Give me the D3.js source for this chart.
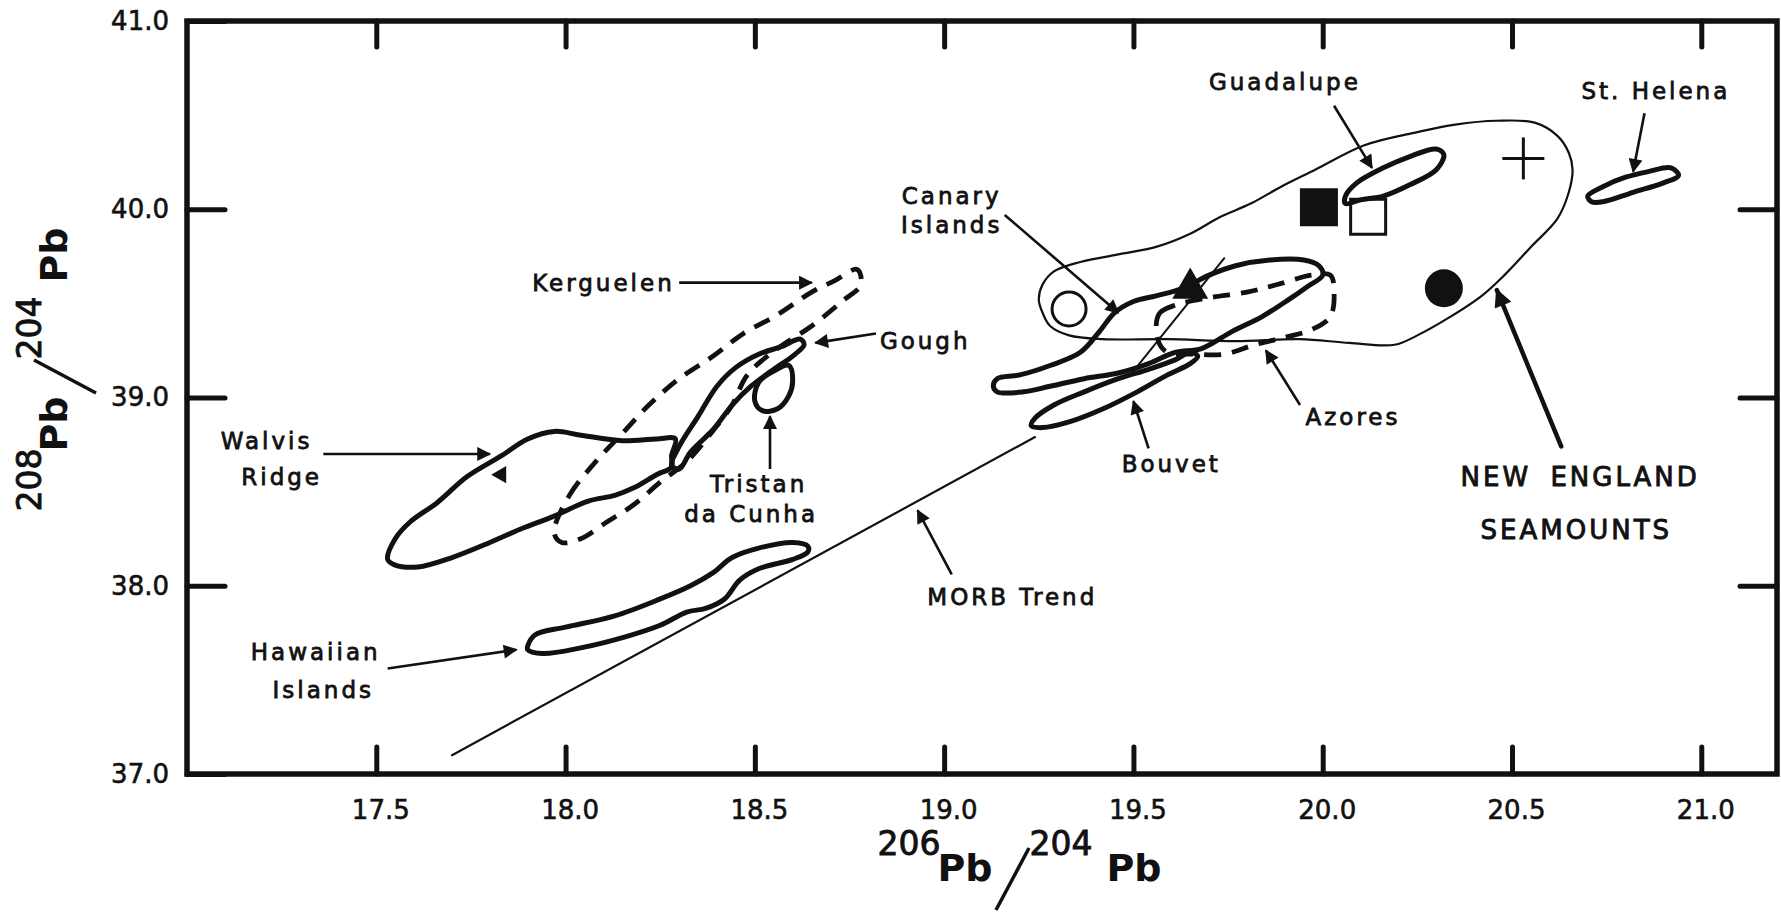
<!DOCTYPE html>
<html>
<head>
<meta charset="utf-8">
<script src="https://cdn.jsdelivr.net/npm/d3@7"></script>
<style>
  body { margin: 0; background: #fff; }
  text { font-family: "DejaVu Sans", sans-serif; fill: #111; }
  .axis path.domain { display: none; }
  .axis line { stroke: #111; stroke-width: 5; stroke-linecap: round; }
  .axis text { font-size: 26px; font-family: "DejaVu Sans", sans-serif; fill: #111;
    stroke: #111; stroke-width: 0.6px; }
  .lbl { font-size: 23px; letter-spacing: 3px; stroke: #111; stroke-width: 0.8px; }
  .big { font-size: 26px; letter-spacing: 3px; word-spacing: 8px; stroke: #111; stroke-width: 0.9px; }
  .sup { font-size: 33px; stroke: #111; stroke-width: 0.9px; }
  .pb { font-size: 38px; font-weight: bold; }
</style>
</head>
<body>
<svg id="chart" width="1781" height="915"></svg>
<script>
// tick values
var xTicks = [17.5, 18.0, 18.5, 19.0, 19.5, 20.0, 20.5, 21.0];
var yTicks = [37.0, 38.0, 39.0, 40.0, 41.0];
var yTicksRight = [38.0, 39.0, 40.0];

// field outlines, [206Pb/204Pb, 208Pb/204Pb]
var walvisRidge = [[17.53,38.14],[17.55,38.25],[17.59,38.34],[17.66,38.44],[17.74,38.58],[17.83,38.69],
  [17.90,38.78],[17.97,38.82],[18.04,38.80],[18.15,38.77],[18.24,38.78],[18.29,38.78],[18.28,38.69],
  [18.28,38.63],[18.24,38.59],[18.18,38.52],[18.13,38.48],[18.06,38.45],[17.97,38.37],[17.88,38.30],
  [17.80,38.23],[17.70,38.15],[17.61,38.10],[17.55,38.11]];
var gough = [[18.28,38.64],[18.30,38.74],[18.35,38.90],[18.40,39.06],[18.45,39.16],[18.51,39.23],
  [18.57,39.27],[18.62,39.31],[18.63,39.28],[18.60,39.22],[18.55,39.15],[18.49,39.06],[18.44,38.96],
  [18.39,38.83],[18.33,38.71],[18.30,38.62]];
var tristan = [[18.50,38.98],[18.51,39.08],[18.55,39.14],[18.59,39.17],[18.60,39.09],[18.59,39.01],
  [18.56,38.94],[18.52,38.93]];
var kerguelen = [[17.97,38.28],[18.01,38.48],[18.08,38.66],[18.15,38.81],[18.22,38.96],[18.30,39.10],
  [18.39,39.22],[18.47,39.34],[18.56,39.44],[18.65,39.56],[18.71,39.62],[18.77,39.68],[18.78,39.60],
  [18.73,39.51],[18.65,39.38],[18.56,39.26],[18.48,39.12],[18.44,38.96],[18.38,38.80],[18.32,38.66],
  [18.25,38.55],[18.18,38.43],[18.11,38.34],[18.04,38.25],[17.99,38.23]];
var hawaiian = [[17.90,37.68],[17.92,37.74],[18.00,37.78],[18.13,37.84],[18.25,37.93],[18.33,38.00],
  [18.39,38.07],[18.44,38.15],[18.51,38.20],[18.60,38.23],[18.64,38.21],[18.64,38.18],[18.60,38.14],
  [18.51,38.09],[18.46,38.03],[18.42,37.93],[18.37,37.88],[18.32,37.86],[18.25,37.79],[18.16,37.73],
  [18.04,37.67],[17.94,37.64],[17.90,37.66]];
var canary = [[19.13,39.06],[19.14,39.10],[19.20,39.12],[19.28,39.17],[19.36,39.24],[19.41,39.35],
  [19.45,39.45],[19.50,39.51],[19.56,39.54],[19.63,39.58],[19.70,39.65],[19.77,39.70],[19.86,39.73],
  [19.95,39.73],[19.99,39.70],[20.00,39.65],[19.96,39.59],[19.91,39.52],[19.84,39.43],[19.76,39.35],
  [19.68,39.26],[19.61,39.24],[19.54,39.18],[19.46,39.13],[19.37,39.10],[19.28,39.06],[19.21,39.03],
  [19.14,39.03]];
var bouvet = [[19.23,38.85],[19.24,38.89],[19.29,38.96],[19.37,39.03],[19.46,39.10],[19.54,39.15],
  [19.61,39.20],[19.65,39.24],[19.67,39.22],[19.65,39.18],[19.59,39.12],[19.51,39.03],[19.42,38.94],
  [19.33,38.87],[19.26,38.84]];
var azores = [[19.56,39.38],[19.57,39.45],[19.61,39.49],[19.70,39.53],[19.80,39.56],[19.88,39.60],
  [19.97,39.65],[20.02,39.65],[20.03,39.56],[20.02,39.43],[19.97,39.36],[19.90,39.32],[19.82,39.28],
  [19.74,39.23],[19.66,39.23],[19.59,39.24],[19.57,39.28]];
var newEngland = [[19.25,39.52],[19.26,39.60],[19.29,39.67],[19.36,39.72],[19.46,39.76],[19.56,39.80],
  [19.65,39.87],[19.73,39.96],[19.81,40.03],[19.89,40.12],[19.98,40.21],[20.11,40.34],[20.25,40.41],
  [20.35,40.45],[20.46,40.47],[20.56,40.46],[20.62,40.39],[20.65,40.30],[20.66,40.21],[20.65,40.09],
  [20.62,39.95],[20.55,39.80],[20.48,39.65],[20.42,39.54],[20.33,39.42],[20.25,39.33],[20.19,39.28],
  [20.07,39.29],[19.94,39.31],[19.77,39.30],[19.59,39.31],[19.42,39.31],[19.33,39.33],[19.28,39.38],
  [19.26,39.45]];
var guadalupe = [[20.06,40.07],[20.09,40.14],[20.16,40.22],[20.23,40.28],[20.30,40.32],[20.32,40.29],
  [20.30,40.21],[20.23,40.13],[20.16,40.07],[20.10,40.05],[20.06,40.03]];
var stHelena = [[20.70,40.07],[20.74,40.12],[20.80,40.17],[20.86,40.20],[20.92,40.22],[20.94,40.18],
  [20.90,40.14],[20.82,40.09],[20.74,40.04],[20.71,40.04]];

// straight lines
var morbTrend = [[17.70,37.10],[19.24,38.79]];
var tieLine = [[19.50,39.14],[19.74,39.74]];

// individual samples
var filledSquares = [[19.99,40.01]];
var openSquares = [[20.12,39.96]];
var crosses = [[20.53,40.27]];
var filledCircles = [[20.32,39.58]];
var openCircles = [[19.33,39.47]];
var filledTriangles = [[19.65,39.58]];
var smallTriangles = [[17.83,38.59]];

// annotations: text, x, y
var labels = [
  ['Kerguelen', 18.10, 39.61], ['Walvis', 17.21, 38.77], ['Ridge', 17.25, 38.58],
  ['Gough', 18.95, 39.30], ['Tristan', 18.51, 38.54], ['da Cunha', 18.49, 38.38],
  ['Hawaiian', 17.34, 37.65], ['Islands', 17.36, 37.45], ['MORB Trend', 19.18, 37.94],
  ['Canary', 19.02, 40.07], ['Islands', 19.02, 39.92], ['Bouvet', 19.60, 38.65],
  ['Azores', 20.08, 38.90], ['Guadalupe', 19.90, 40.68], ['St. Helena', 20.88, 40.63]
];
var bigLabels = [['NEW ENGLAND', 20.68, 38.58], ['SEAMOUNTS', 20.67, 38.30]];
// arrows: x1, y1, x2, y2 (head at the second point)
var arrows = [
  [18.30,39.61, 18.65,39.61], [17.36,38.70, 17.80,38.70], [18.82,39.34, 18.66,39.29],
  [18.54,38.62, 18.54,38.90], [17.53,37.56, 17.87,37.66], [19.02,38.06, 18.93,38.40],
  [19.16,39.97, 19.46,39.45], [19.54,38.73, 19.50,38.98], [19.94,38.96, 19.85,39.25],
  [20.03,40.55, 20.13,40.22], [20.85,40.51, 20.82,40.20]
];
var bigArrows = [[20.63,38.74, 20.46,39.57]];

var ink = '#111';
var svg = d3.select('#chart');
var x = d3.scaleLinear().domain([17.0, 21.2]).range([187, 1777]);
var y = d3.scaleLinear().domain([37.0, 41.0]).range([774, 21]);

var defs = svg.append('defs');
function addHead(id, w, h) {
  defs.append('marker').attr('id', id)
    .attr('viewBox', '0 0 10 10').attr('refX', 9).attr('refY', 5)
    .attr('markerWidth', w).attr('markerHeight', h)
    .attr('markerUnits', 'userSpaceOnUse').attr('orient', 'auto')
    .append('path').attr('d', 'M0,0L10,5L0,10Z').attr('fill', ink);
}
addHead('head', 17, 14);
addHead('headBig', 22, 18);

// axes, ticks pointing inward
svg.append('g').attr('class', 'axis')
  .attr('transform', 'translate(0,' + y(37) + ')')
  .call(d3.axisBottom(x).tickValues(xTicks).tickSize(-27).tickPadding(27).tickFormat(d3.format('.1f')))
  .selectAll('text').attr('dx', 4);
svg.append('g').attr('class', 'axis')
  .attr('transform', 'translate(0,' + y(41) + ')')
  .call(d3.axisTop(x).tickValues(xTicks).tickSize(-26).tickFormat(function () { return ''; }));
svg.append('g').attr('class', 'axis')
  .attr('transform', 'translate(' + x(17) + ',0)')
  .call(d3.axisLeft(y).tickValues(yTicks).tickSize(-38).tickPadding(18).tickFormat(d3.format('.1f')));
svg.append('g').attr('class', 'axis')
  .attr('transform', 'translate(' + x(21.2) + ',0)')
  .call(d3.axisRight(y).tickValues(yTicksRight).tickSize(-37).tickFormat(function () { return ''; }));

svg.append('rect')
  .attr('x', x(17)).attr('y', y(41))
  .attr('width', x(21.2) - x(17)).attr('height', y(37) - y(41))
  .attr('fill', 'none').attr('stroke', ink).attr('stroke-width', 5.5);

// fields
var outline = d3.line()
  .x(function (d) { return x(d[0]); })
  .y(function (d) { return y(d[1]); })
  .curve(d3.curveCatmullRomClosed.alpha(0.5));

var fields = svg.append('g').attr('fill', 'none').attr('stroke', ink)
  .attr('stroke-linejoin', 'round').attr('stroke-linecap', 'round');

fields.append('path').attr('d', outline(newEngland)).attr('stroke-width', 2.2);

[kerguelen, azores].forEach(function (pts) {
  fields.append('path').attr('d', outline(pts))
    .attr('stroke-width', 4.8).attr('stroke-dasharray', '17 11').attr('stroke-linecap', 'butt');
});

[walvisRidge, gough, tristan, hawaiian, canary, bouvet, guadalupe, stHelena].forEach(function (pts) {
  fields.append('path').attr('d', outline(pts)).attr('stroke-width', 5);
});

var straight = d3.line().x(function (d) { return x(d[0]); }).y(function (d) { return y(d[1]); });
fields.append('path').attr('d', straight(morbTrend)).attr('stroke-width', 2.2);
fields.append('path').attr('d', straight(tieLine)).attr('stroke-width', 2);

// samples
var sym = svg.append('g');
sym.selectAll('.fsq').data(filledSquares).enter().append('path')
  .attr('transform', function (d) { return 'translate(' + x(d[0]) + ',' + y(d[1]) + ')'; })
  .attr('d', d3.symbol().type(d3.symbolSquare).size(1444)).attr('fill', ink);
sym.selectAll('.osq').data(openSquares).enter().append('path')
  .attr('transform', function (d) { return 'translate(' + x(d[0]) + ',' + y(d[1]) + ')'; })
  .attr('d', d3.symbol().type(d3.symbolSquare).size(1225))
  .attr('fill', 'none').attr('stroke', ink).attr('stroke-width', 3);
sym.selectAll('.fci').data(filledCircles).enter().append('circle')
  .attr('cx', function (d) { return x(d[0]); }).attr('cy', function (d) { return y(d[1]); })
  .attr('r', 19).attr('fill', ink);
sym.selectAll('.oci').data(openCircles).enter().append('circle')
  .attr('cx', function (d) { return x(d[0]); }).attr('cy', function (d) { return y(d[1]); })
  .attr('r', 17).attr('fill', 'none').attr('stroke', ink).attr('stroke-width', 3);
sym.selectAll('.ftr').data(filledTriangles).enter().append('path')
  .attr('transform', function (d) { return 'translate(' + x(d[0]) + ',' + y(d[1]) + ')'; })
  .attr('d', d3.symbol().type(d3.symbolTriangle).size(560)).attr('fill', ink);
sym.selectAll('.str').data(smallTriangles).enter().append('path')
  .attr('transform', function (d) { return 'translate(' + x(d[0]) + ',' + y(d[1]) + ') rotate(-90)'; })
  .attr('d', d3.symbol().type(d3.symbolTriangle).size(130)).attr('fill', ink);
crosses.forEach(function (d) {
  var cx = x(d[0]), cy = y(d[1]);
  sym.append('line').attr('x1', cx - 21).attr('x2', cx + 21).attr('y1', cy).attr('y2', cy)
    .attr('stroke', ink).attr('stroke-width', 3);
  sym.append('line').attr('x1', cx).attr('x2', cx).attr('y1', cy - 21).attr('y2', cy + 21)
    .attr('stroke', ink).attr('stroke-width', 3);
});

// annotations
var ann = svg.append('g');
arrows.forEach(function (a) {
  ann.append('line')
    .attr('x1', x(a[0])).attr('y1', y(a[1])).attr('x2', x(a[2])).attr('y2', y(a[3]))
    .attr('stroke', ink).attr('stroke-width', 2.6).attr('marker-end', 'url(#head)');
});
bigArrows.forEach(function (a) {
  ann.append('line')
    .attr('x1', x(a[0])).attr('y1', y(a[1])).attr('x2', x(a[2])).attr('y2', y(a[3]))
    .attr('stroke', ink).attr('stroke-width', 4.5).attr('stroke-linecap', 'round')
    .attr('marker-end', 'url(#headBig)');
});
ann.selectAll('.lbl').data(labels).enter().append('text')
  .attr('class', 'lbl').attr('text-anchor', 'middle').attr('dy', '0.36em')
  .attr('x', function (d) { return x(d[1]); }).attr('y', function (d) { return y(d[2]); })
  .text(function (d) { return d[0]; });
ann.selectAll('.big').data(bigLabels).enter().append('text')
  .attr('class', 'big').attr('text-anchor', 'middle').attr('dy', '0.36em')
  .attr('x', function (d) { return x(d[1]); }).attr('y', function (d) { return y(d[2]); })
  .text(function (d) { return d[0]; });

// axis titles: supA Pb / supB Pb
function isotopeTitle(g, supA, supB) {
  g.append('text').attr('class', 'sup').attr('x', -108).attr('y', -26).attr('text-anchor', 'middle').text(supA);
  g.append('text').attr('class', 'pb').attr('x', -52).attr('y', 0).attr('text-anchor', 'middle').text('Pb');
  g.append('line').attr('x1', -21).attr('y1', 29).attr('x2', 12).attr('y2', -33)
    .attr('stroke', ink).attr('stroke-width', 3.5);
  g.append('text').attr('class', 'sup').attr('x', 44).attr('y', -26).attr('text-anchor', 'middle').text(supB);
  g.append('text').attr('class', 'pb').attr('x', 117).attr('y', 0).attr('text-anchor', 'middle').text('Pb');
}
isotopeTitle(svg.append('g').attr('transform', 'translate(1017,881)'), '206', '204');
isotopeTitle(svg.append('g').attr('transform', 'translate(67,372) rotate(-90)'), '208', '204');
</script>
</body>
</html>
